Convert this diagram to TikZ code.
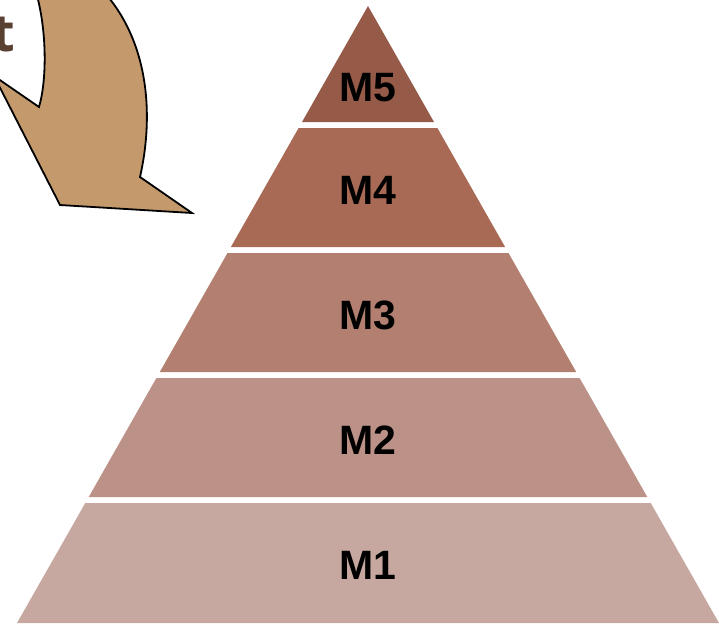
\documentclass[tikz,border=0pt]{standalone}
\usepackage{fontspec}
\setmainfont{Liberation Sans}
\newfontfamily\headingfont{Open Sans}
\begin{document}
\definecolor{tierA}{HTML}{C6A8A0}
\definecolor{tierB}{HTML}{BC9188}
\definecolor{tierC}{HTML}{B27F70}
\definecolor{tierD}{HTML}{A86A55}
\definecolor{tierE}{HTML}{955B48}
\definecolor{arrowfill}{HTML}{C49A6D}
\definecolor{titletext}{HTML}{5A4031}
\begin{tikzpicture}[x=1pt,y=-1pt,
  tierlabel/.style={font=\fontsize{41}{41}\selectfont\bfseries, text=black, inner sep=0pt},
  bigarrow/.style={fill=arrowfill, draw=black, line width=1.8pt, line join=miter}]
  \useasboundingbox (0,0) rectangle (719,627);
  \clip (0,0) rectangle (719,627);

  % pyramid tiers (apex at 368,6; half-width grows 0.5689 per unit of depth)
  \fill[tierE] (368,6) -- (434,122) -- (302,122) -- cycle;
  \fill[tierD] (298.6,128) -- (437.4,128) -- (505.1,247) -- (230.9,247) -- cycle;
  \fill[tierC] (227.5,253) -- (508.5,253) -- (576.2,372) -- (159.8,372) -- cycle;
  \fill[tierB] (156.4,378) -- (579.6,378) -- (647.3,497) -- (88.7,497) -- cycle;
  \fill[tierA] (85.3,503) -- (650.7,503) -- (719,623) -- (17,623) -- cycle;

  \node[tierlabel] (m5) at (368,88) {M5};
  \node[tierlabel] (m4) at (368,190) {M4};
  \node[tierlabel] (m3) at (368,315) {M3};
  \node[tierlabel] (m2) at (368,440) {M2};
  \node[tierlabel] (m1) at (368,565) {M1};

  % curved block arrow pointing down to the right
  \draw[bigarrow] (36,-8) .. controls (47,30) and (47,80) .. (39,107)
    -- (-6,76) -- (60,205) -- (192,213) -- (140,177)
    .. controls (153,120) and (151,45) .. (104,-8) -- cycle;

  \node[anchor=base east, inner sep=0pt, text=titletext,
        font=\headingfont\fontsize{52}{52}\selectfont\bfseries] (title) at (15,51) {t};
\end{tikzpicture}
\end{document}
